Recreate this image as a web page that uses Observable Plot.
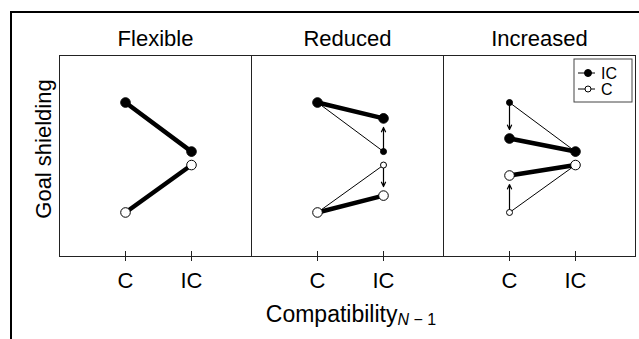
<!DOCTYPE html>
<html><head><meta charset="utf-8">
<script src="https://cdn.jsdelivr.net/npm/d3@7"></script>
<script src="https://cdn.jsdelivr.net/npm/@observablehq/plot@0.6"></script>
<style>
body{margin:0;background:#fff;}
#chart{width:639px;height:339px;}
svg{font-family:"Liberation Sans",Arial,Helvetica,sans-serif;}
</style></head><body><div id="chart"></div>
<script>
const panels = ["Flexible", "Reduced", "Increased"];
const compat = ["C", "IC"];
const series = ["IC", "C"];
// goal shielding values at [C, IC]
const flexibleIC = [7.66, 5.22];
const flexibleC = [2.19, 4.55];
const reducedIC = [7.66, 6.87];
const reducedC = [2.19, 3.03];
const increasedIC = [5.87, 5.22];
const increasedC = [4.03, 4.55];
const xTitle = "Compatibility";
const xTitleSub = ["N", " \u2212 1"];
const yTitle = "Goal shielding";

const byPanel = {
  Flexible: {IC: flexibleIC, C: flexibleC},
  Reduced: {IC: reducedIC, C: reducedC},
  Increased: {IC: increasedIC, C: increasedC}
};
const rows = panels.flatMap(p => series.flatMap(s => compat.map((c, i) => ({
  panel: p, series: s, compat: c, value: byPanel[p][s][i], base: byPanel.Flexible[s][i]
}))));
const changed = rows.filter(d => d.value !== d.base);
const baseRows = rows.filter(d => d.panel !== "Flexible");

const W = 639, H = 339, mL = 58, mR = 3, mT = 55, mB = 83;
const font = "'Liberation Sans', Arial, Helvetica, sans-serif";

const plot = Plot.plot({
  width: W, height: H,
  marginLeft: mL, marginRight: mR, marginTop: mT, marginBottom: mB,
  style: {fontFamily: font, fontSize: "22px", color: "black", background: "white"},
  fx: {domain: panels, padding: 0, label: null},
  x: {type: "point", domain: compat, padding: 0.94, align: 0.52, label: null},
  y: {domain: [0, 10], axis: null},
  color: {domain: series, range: ["black", "white"]},
  marks: [
    Plot.frame({stroke: "#222", strokeWidth: 1}),
    Plot.axisFx({anchor: "top", tickSize: 0, tickPadding: 10, fontSize: 22, label: null}),
    Plot.axisX({tickSize: 10, dy: -5, text: null, label: null, stroke: "#222"}),
    Plot.axisX({tickSize: 0, tickPadding: 16, fontSize: 22, label: null}),
    Plot.line(baseRows, {fx: "panel", x: "compat", y: "base", z: "series", stroke: "black", strokeWidth: 1}),
    Plot.line(rows, {fx: "panel", x: "compat", y: "value", z: "series", stroke: "black", strokeWidth: 4.5}),
    Plot.arrow(changed, {fx: "panel", x1: "compat", x2: "compat", y1: "base", y2: "value",
      insetStart: 3, insetEnd: 9, headLength: 6, headAngle: 50, stroke: "black", strokeWidth: 1.2}),
    Plot.dot(changed, {fx: "panel", x: "compat", y: "base", r: 3, fill: "series", stroke: "black", strokeWidth: 1}),
    Plot.dot(rows, {fx: "panel", x: "compat", y: "value", r: 4.8, fill: "series", stroke: "black", strokeWidth: 1})
  ]
});
document.getElementById("chart").append(plot);

const svg = d3.select(plot);
// outer border (top and left)
svg.append("path").attr("d", `M11,${H} V12 H${W}`).attr("fill", "none").attr("stroke", "black").attr("stroke-width", 2);

// y title
svg.append("text")
  .attr("transform", `translate(51,149) rotate(-90)`)
  .attr("text-anchor", "middle").attr("font-size", 22).attr("font-family", font).attr("fill", "black")
  .text(yTitle);

// x title with subscript
const xt = svg.append("text")
  .attr("x", (mL + W - mR) / 2 + 4).attr("y", 322)
  .attr("text-anchor", "middle").attr("font-size", 23).attr("font-family", font).attr("fill", "black");
xt.append("tspan").text(xTitle);
xt.append("tspan").attr("dy", 3).attr("font-size", 16).attr("font-style", "italic").text(xTitleSub[0]);
xt.append("tspan").attr("font-size", 16).text(xTitleSub[1]);

// legend in the last panel, top-right
const lx = W - mR - 62, ly = mT + 4;
const lg = svg.append("g").attr("font-family", font).attr("font-size", 16).attr("text-anchor", "start");
lg.append("rect").attr("x", lx).attr("y", ly).attr("width", 58).attr("height", 43)
  .attr("fill", "white").attr("stroke", "#444").attr("stroke-width", 1);
series.forEach((s, i) => {
  const cy = ly + 14 + i * 16;
  lg.append("line").attr("x1", lx + 4).attr("x2", lx + 21).attr("y1", cy).attr("y2", cy).attr("stroke", "black").attr("stroke-width", 1);
  lg.append("circle").attr("cx", lx + 14).attr("cy", cy).attr("r", s === "IC" ? 3.5 : 3)
    .attr("fill", s === "IC" ? "black" : "white").attr("stroke", "black");
  lg.append("text").attr("x", lx + 27).attr("y", cy + 6).attr("fill", "black").text(s);
});
</script></body></html>
